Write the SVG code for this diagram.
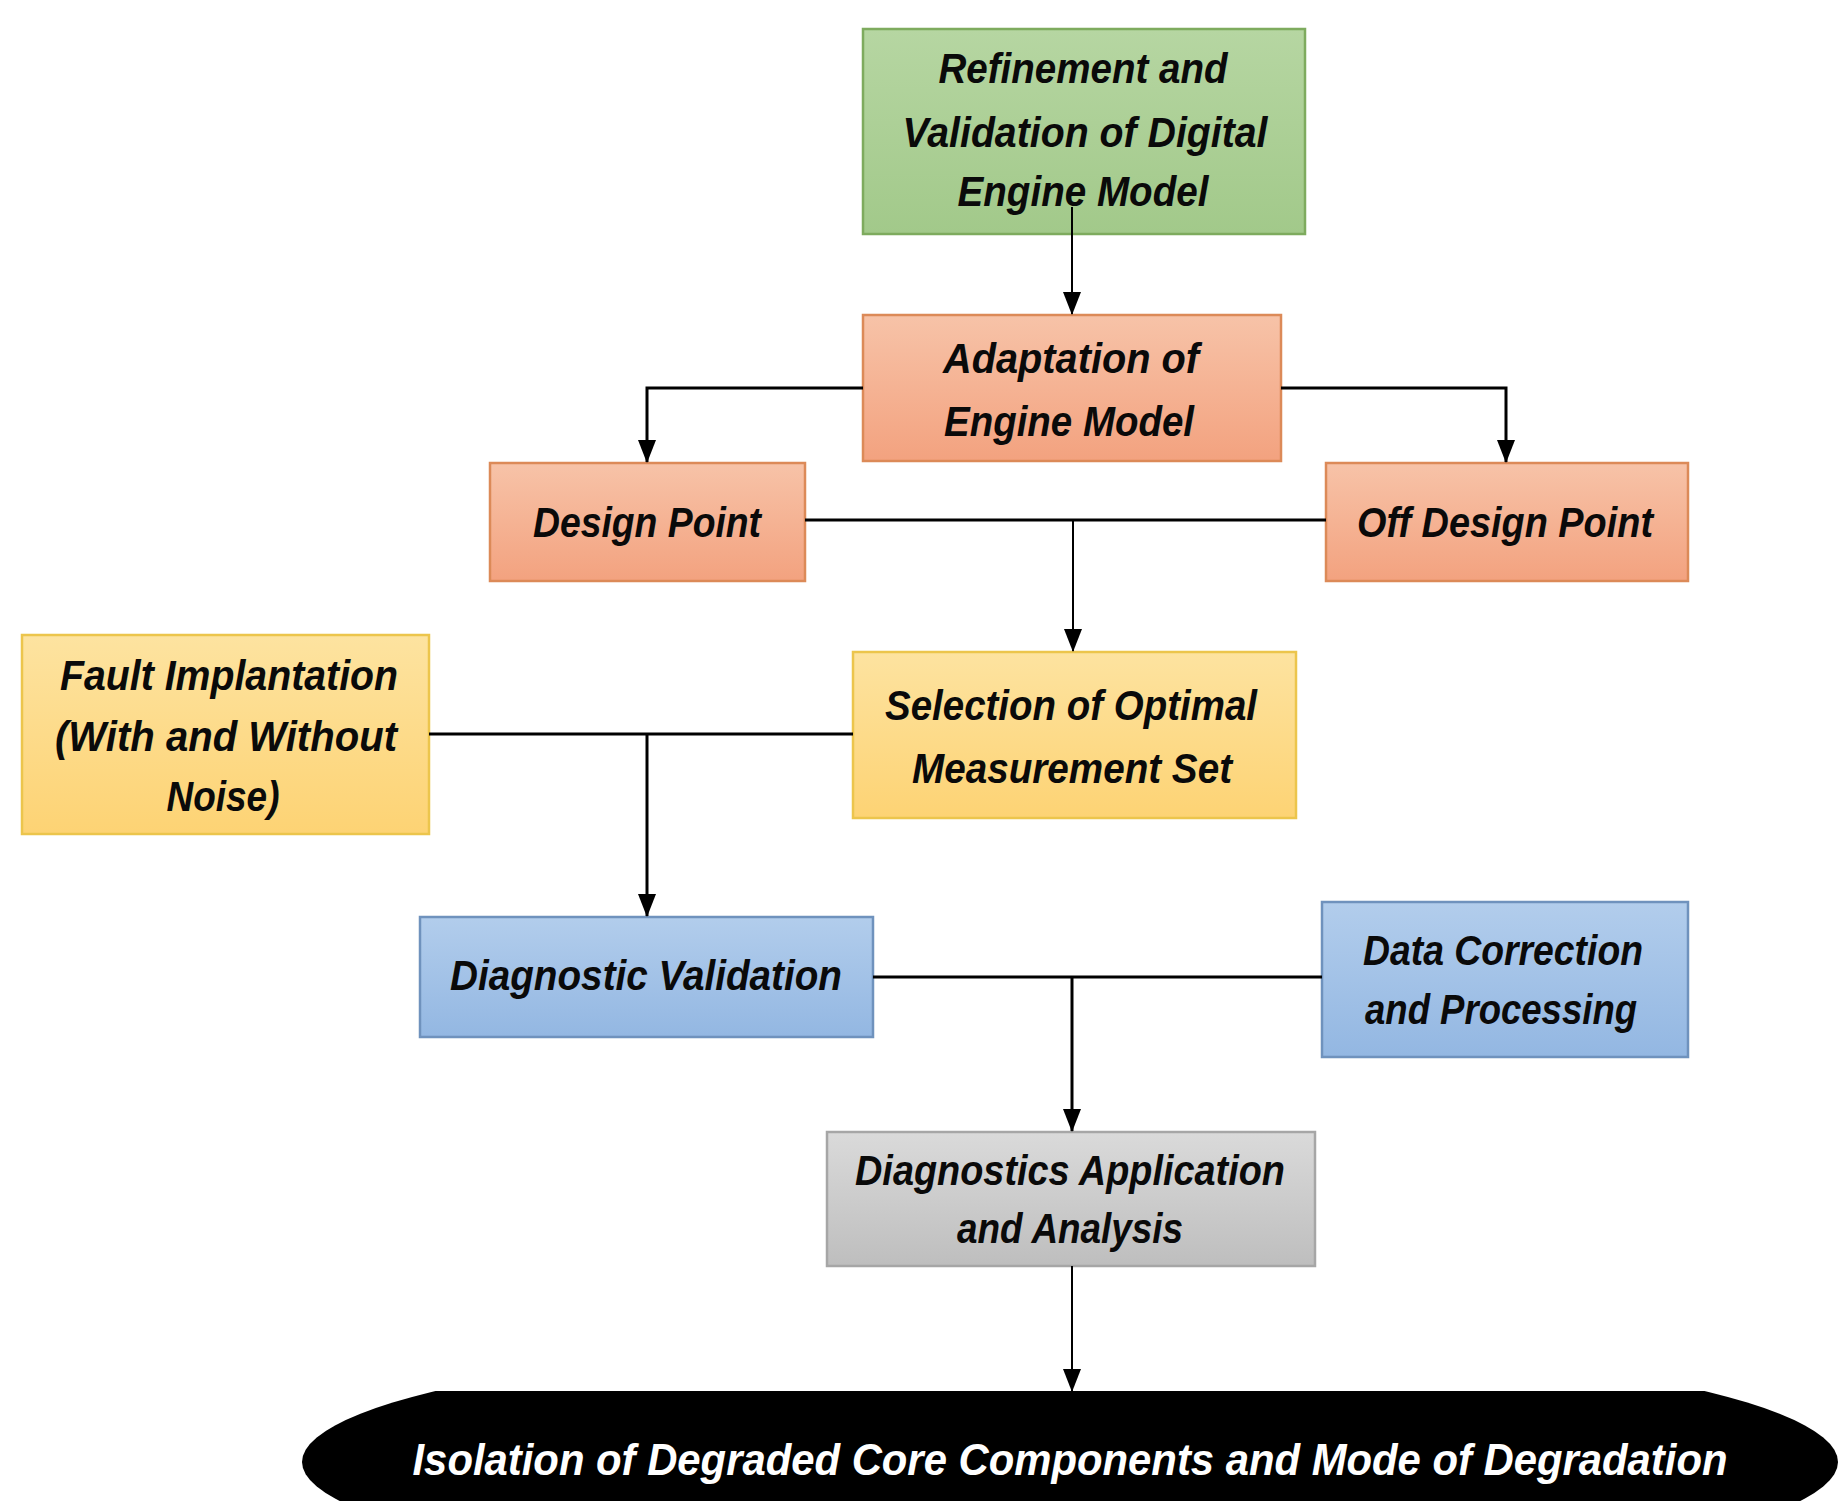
<svg xmlns="http://www.w3.org/2000/svg" width="1838" height="1501" viewBox="0 0 1838 1501">
<style>
.t{font-family:"Liberation Sans",Arial,sans-serif;font-weight:bold;font-style:italic;font-size:42px;fill:#0a0a0a;text-anchor:middle}
.w{fill:#ffffff;font-size:45px}
.box{stroke-width:2.5}
.ln{fill:none;stroke:#000;stroke-width:3}
.thin{fill:none;stroke:#000;stroke-width:2}
</style>
<defs>
<linearGradient id="gGreen" x1="0" y1="0" x2="0" y2="1"><stop offset="0" stop-color="#b6d6a2"/><stop offset="1" stop-color="#a2c98a"/></linearGradient>
<linearGradient id="gOrange" x1="0" y1="0" x2="0" y2="1"><stop offset="0" stop-color="#f7c3a8"/><stop offset="1" stop-color="#f3a27f"/></linearGradient>
<linearGradient id="gYellow" x1="0" y1="0" x2="0" y2="1"><stop offset="0" stop-color="#fde3a0"/><stop offset="1" stop-color="#fdd374"/></linearGradient>
<linearGradient id="gBlue" x1="0" y1="0" x2="0" y2="1"><stop offset="0" stop-color="#b2cdec"/><stop offset="1" stop-color="#93b7e2"/></linearGradient>
<linearGradient id="gGray" x1="0" y1="0" x2="0" y2="1"><stop offset="0" stop-color="#dadada"/><stop offset="1" stop-color="#bebebe"/></linearGradient>
<marker id="arr" markerUnits="userSpaceOnUse" markerWidth="23" markerHeight="19" refX="22" refY="9" orient="auto" viewBox="0 0 23 18">
<path d="M0,0 L23,9 L0,18 Z" fill="#000"/>
</marker>
<clipPath id="clipE"><rect x="0" y="1391" width="1838" height="110"/></clipPath>
</defs>

<g id="n-refinement">
<rect class="box" x="863" y="29" width="442" height="205" fill="url(#gGreen)" stroke="#7eab5e"/>
<text class="t" x="1083" y="83" textLength="289" lengthAdjust="spacingAndGlyphs">Refinement and</text>
<text class="t" x="1085" y="147" textLength="365" lengthAdjust="spacingAndGlyphs">Validation of Digital</text>
<text class="t" x="1083" y="206" textLength="251" lengthAdjust="spacingAndGlyphs">Engine Model</text>
</g>

<g id="n-adaptation">
<rect class="box" x="863" y="315" width="418" height="146" fill="url(#gOrange)" stroke="#dc8a58"/>
<text class="t" x="1071" y="373" textLength="256" lengthAdjust="spacingAndGlyphs">Adaptation of</text>
<text class="t" x="1069" y="436" textLength="250" lengthAdjust="spacingAndGlyphs">Engine Model</text>
</g>

<g id="n-design">
<rect class="box" x="490" y="463" width="315" height="118" fill="url(#gOrange)" stroke="#dc8a58"/>
<text class="t" x="647" y="537" textLength="228" lengthAdjust="spacingAndGlyphs">Design Point</text>
</g>

<g id="n-offdesign">
<rect class="box" x="1326" y="463" width="362" height="118" fill="url(#gOrange)" stroke="#dc8a58"/>
<text class="t" x="1505" y="537" textLength="296" lengthAdjust="spacingAndGlyphs">Off Design Point</text>
</g>

<g id="n-fault">
<rect class="box" x="22" y="635" width="407" height="199" fill="url(#gYellow)" stroke="#ecc54c"/>
<text class="t" x="229" y="690" textLength="338" lengthAdjust="spacingAndGlyphs">Fault Implantation</text>
<text class="t" x="226" y="751" textLength="342" lengthAdjust="spacingAndGlyphs">(With and Without</text>
<text class="t" x="223" y="811" textLength="113" lengthAdjust="spacingAndGlyphs">Noise)</text>
</g>

<g id="n-selection">
<rect class="box" x="853" y="652" width="443" height="166" fill="url(#gYellow)" stroke="#ecc54c"/>
<text class="t" x="1071" y="720" textLength="372" lengthAdjust="spacingAndGlyphs">Selection of Optimal</text>
<text class="t" x="1072" y="783" textLength="320" lengthAdjust="spacingAndGlyphs">Measurement Set</text>
</g>

<g id="n-diagval">
<rect class="box" x="420" y="917" width="453" height="120" fill="url(#gBlue)" stroke="#6f92bd"/>
<text class="t" x="646" y="990" textLength="392" lengthAdjust="spacingAndGlyphs">Diagnostic Validation</text>
</g>

<g id="n-datacorr">
<rect class="box" x="1322" y="902" width="366" height="155" fill="url(#gBlue)" stroke="#6f92bd"/>
<text class="t" x="1503" y="965" textLength="280" lengthAdjust="spacingAndGlyphs">Data Correction</text>
<text class="t" x="1501" y="1024" textLength="272" lengthAdjust="spacingAndGlyphs">and Processing</text>
</g>

<g id="n-diagapp">
<rect class="box" x="827" y="1132" width="488" height="134" fill="url(#gGray)" stroke="#a6a6a6"/>
<text class="t" x="1070" y="1185" textLength="430" lengthAdjust="spacingAndGlyphs">Diagnostics Application</text>
<text class="t" x="1070" y="1243" textLength="226" lengthAdjust="spacingAndGlyphs">and Analysis</text>
</g>

<g id="n-isolation">
<ellipse cx="1070" cy="1462" rx="768" ry="126" fill="#000" clip-path="url(#clipE)"/>
<text class="t w" x="1070" y="1475" textLength="1315" lengthAdjust="spacingAndGlyphs">Isolation of Degraded Core Components and Mode of Degradation</text>
</g>

<g id="connectors">
<path class="thin" d="M1072,207 V314" marker-end="url(#arr)"/>
<path class="ln" d="M863,388 H647 V462" marker-end="url(#arr)"/>
<path class="ln" d="M1281,388 H1506 V462" marker-end="url(#arr)"/>
<path class="ln" d="M805,520 H1326"/>
<path class="thin" d="M1073,520 V651" marker-end="url(#arr)"/>
<path class="ln" d="M429,734 H853"/>
<path class="ln" d="M647,734 V916" marker-end="url(#arr)"/>
<path class="ln" d="M873,977 H1322"/>
<path class="ln" d="M1072,977 V1131" marker-end="url(#arr)"/>
<path class="thin" d="M1072,1266 V1391" marker-end="url(#arr)"/>
</g>
</svg>
